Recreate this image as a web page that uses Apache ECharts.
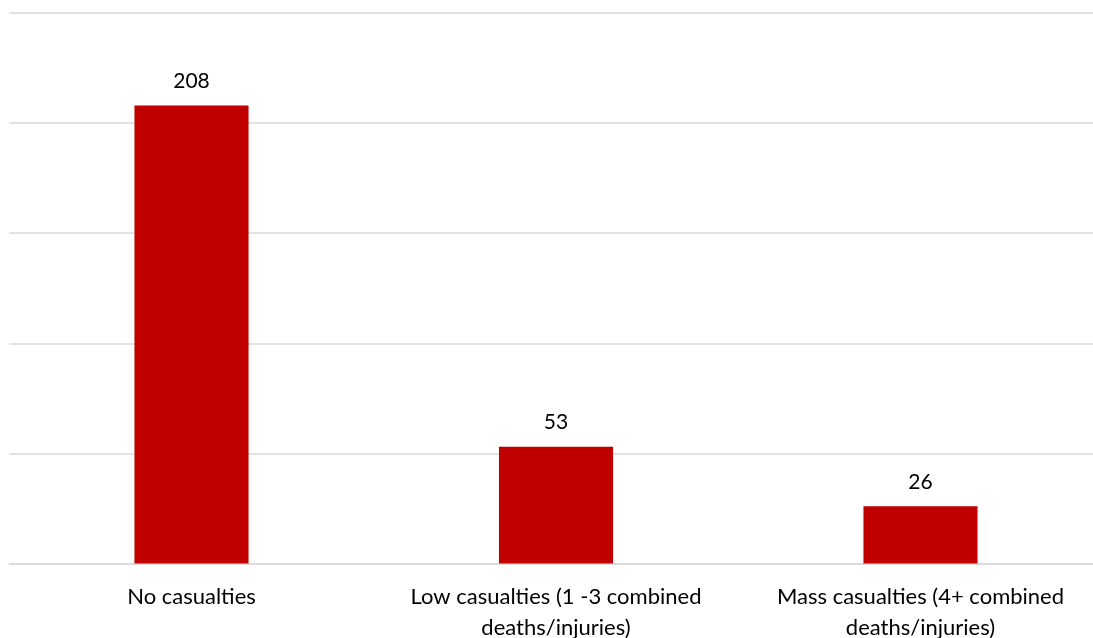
<!DOCTYPE html>
<html>
<head>
<meta charset="utf-8">
<script src="https://cdn.jsdelivr.net/npm/echarts@6/dist/echarts.min.js"></script>
<style>
html,body{margin:0;padding:0;background:#fff;}
#chart{width:1093px;height:638px;}
</style>
</head>
<body>
<div id="chart"></div>
<script>
var categories = ["No casualties", "Low casualties (1 -3 combined deaths/injuries)", "Mass casualties (4+ combined deaths/injuries)"];
var values = [208, 53, 26];
var yMin = 0, yMax = 250, yInterval = 50;

var chart = echarts.init(document.getElementById('chart'), null, {renderer: 'canvas'});
chart.setOption({
  animation: false,
  grid: {left: 9.25, top: 13, width: 1093.5, height: 550.5, containLabel: false, outerBoundsMode: 'none'},
  xAxis: {
    type: 'category',
    data: categories,
    axisLine: {show: true, lineStyle: {color: '#d9d9d9', width: 1.5}},
    axisTick: {show: false},
    axisLabel: {
      interval: 0,
      margin: 18,
      color: '#000',
      fontFamily: 'Lato',
      fontSize: 22,
      lineHeight: 31,
      formatter: function (v) { return v.replace(' deaths/', '\ndeaths/'); }
    }
  },
  yAxis: {
    type: 'value',
    min: yMin, max: yMax, interval: yInterval,
    axisLabel: {show: false},
    axisLine: {show: false},
    axisTick: {show: false},
    splitLine: {lineStyle: {color: '#d9d9d9', width: 1.5}}
  },
  series: [{
    type: 'bar',
    data: values,
    barWidth: '31.3%',
    itemStyle: {color: '#C00000'},
    label: {show: true, position: 'top', distance: 14, color: '#000', fontFamily: 'Lato', fontSize: 21}
  }]
});
</script>
</body>
</html>
